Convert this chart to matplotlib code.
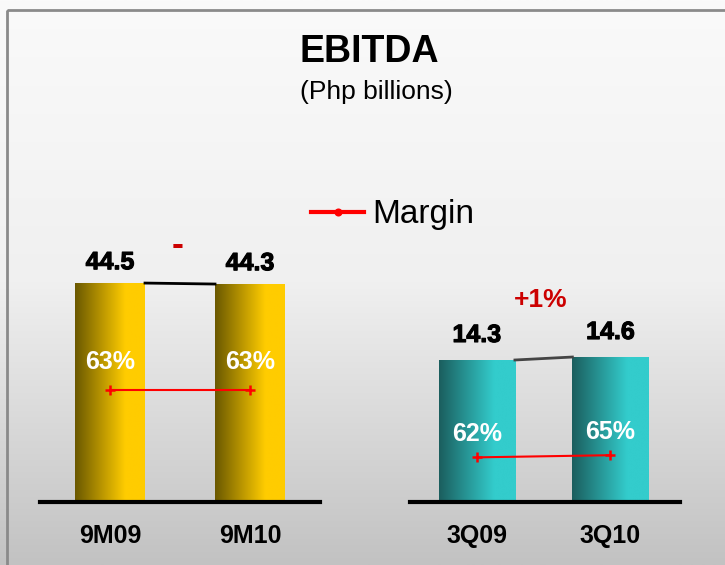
import numpy as np
import matplotlib
matplotlib.use("Agg")
import matplotlib.pyplot as plt
import matplotlib.patheffects as pe
from matplotlib.colors import LinearSegmentedColormap
from matplotlib.patches import Rectangle

plt.rcParams["font.family"] = ["Liberation Sans", "DejaVu Sans"]

# data
cats_9m = ["9M09", "9M10"]
ebitda_9m = [44.5, 44.3]
margin_9m = [63, 63]

cats_3q = ["3Q09", "3Q10"]
ebitda_3q = [14.3, 14.6]
margin_3q = [62, 65]

change_9m = "-"
change_3q = "+1%"

W, H = 725, 565
fig = plt.figure(figsize=(W / 100, H / 100), dpi=100)

# background gradient + frame
bg = fig.add_axes([0, 0, 1, 1], zorder=-5)
grad = np.linspace(0, 1, 256).reshape(-1, 1)
bg_cmap = LinearSegmentedColormap.from_list("bg", ["#fafafa", "#f0f0f0", "#c2c2c2"])
bg.imshow(grad, extent=[0, W, H, 0], aspect="auto", cmap=bg_cmap)
bg.add_patch(Rectangle((7, 9.5), W + 20, H + 20, fill=False, edgecolor="#8a8a8a", lw=2))
bg.set_xlim(0, W)
bg.set_ylim(H, 0)
bg.axis("off")

fig.text(369 / W, 1 - 52 / H, "EBITDA", ha="center", va="center", fontsize=27, fontweight="bold")
fig.text(376 / W, 1 - 92 / H, "(Php billions)", ha="center", va="center", fontsize=19)

gold = LinearSegmentedColormap.from_list("gold", [(0, "#6a5800"), (0.72, "#ffcc00"), (1, "#ffcc00")])
teal = LinearSegmentedColormap.from_list("teal", [(0, "#1b5e5e"), (0.72, "#33cccc"), (1, "#33cccc")])
hgrad = np.linspace(0, 1, 256).reshape(1, -1)


def panel(rect, xlim, ylim, mlim, cats, vals, margins, width, cmap, conn_color,
          val_off, pct_off, change, change_pos, change_size):
    ax = fig.add_axes(rect)
    ax.patch.set_visible(False)
    x = np.arange(len(vals))
    bars = ax.bar(x, vals, width=width, color="none", zorder=2)
    for b in bars:
        im = ax.imshow(hgrad, extent=[b.get_x(), b.get_x() + b.get_width(), 0, b.get_height()],
                       aspect="auto", cmap=cmap, zorder=2)
        im.set_clip_path(b)
    ax.plot([bars[0].get_x() + width, bars[1].get_x()], vals, color=conn_color, lw=2, zorder=3)
    for xi, v in zip(x, vals):
        ax.annotate(f"{v:.1f}", (xi, v), xytext=(0, val_off), textcoords="offset points",
                    ha="center", va="center", fontsize=18, fontweight="bold",
                    path_effects=[pe.withStroke(linewidth=0.8, foreground="black")])
    ax.set_xlim(*xlim)
    ax.set_ylim(*ylim)
    ax.set_xticks(x)
    ax.set_xticklabels(cats, fontsize=18, fontweight="bold")
    ax.tick_params(axis="x", length=0, pad=16)
    ax.set_yticks([])
    for s in ["top", "left", "right"]:
        ax.spines[s].set_visible(False)
    ax.spines["bottom"].set_linewidth(3)
    ax.spines["bottom"].set_color("black")
    ax.text(change_pos[0], change_pos[1], change, transform=ax.transAxes, ha="center", va="center",
            color="#cc0000", fontsize=change_size, fontweight="bold")

    ax2 = ax.twinx()
    ax2.patch.set_visible(False)
    line, = ax2.plot(x, margins, color="#ff0000", lw=1.5, marker="+", ms=7, mew=1.8, zorder=4,
                     label="Margin")
    for xi, m in zip(x, margins):
        ax2.annotate(f"{m}%", (xi, m), xytext=(0, pct_off), textcoords="offset points",
                     ha="center", va="center", fontsize=18, fontweight="bold", color="white")
    ax2.set_ylim(*mlim)
    ax2.set_yticks([])
    for s in ax2.spines.values():
        s.set_visible(False)
    return line


line = panel([40 / W, 63 / H, 280 / W, 240 / H], (-0.5, 1.5), (0, 240 / 4.92), (0, 240 / 1.78),
             cats_9m, ebitda_9m, margin_9m, 0.5, gold, "black", 15, 20, change_9m, (0.493, 1.07), 26)
panel([410 / W, 63 / H, 270 / W, 240 / H], (-0.5, 1.52), (0, 240 / 9.93), (0, 240 / 0.72),
      cats_3q, ebitda_3q, margin_3q, 0.57, teal, "#444444", 18, 17, change_3q, (0.485, 0.842), 19)

leg = fig.legend(handles=[line], loc="center left", bbox_to_anchor=(311 / W, 1 - 215 / H),
                 frameon=False, fontsize=24, handlelength=1.6, handletextpad=0.25,
                 borderpad=0, borderaxespad=0, numpoints=1)
for h in leg.legend_handles:
    h.set_linewidth(3)
    h.set_marker("o")
    h.set_markersize(4)

fig.savefig("out.png", dpi=100)
